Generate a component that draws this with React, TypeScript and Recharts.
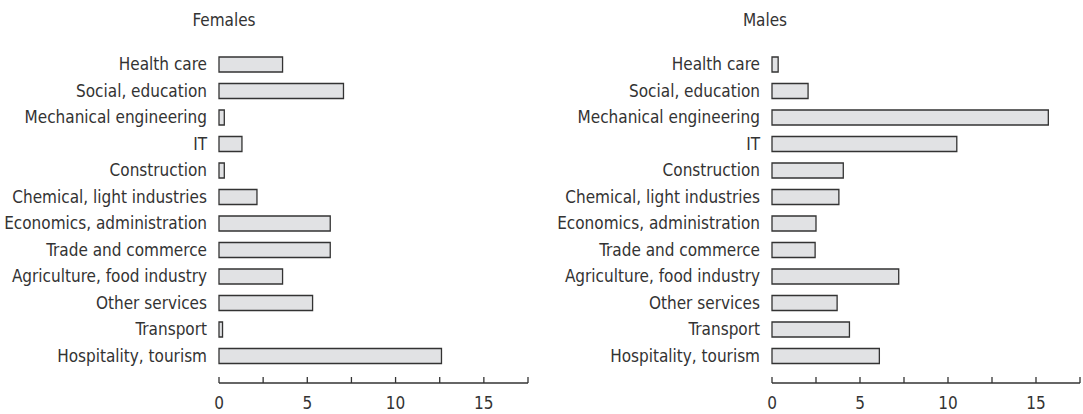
import { BarChart, Bar, XAxis, YAxis } from 'recharts'

const sectors = [
  'Health care',
  'Social, education',
  'Mechanical engineering',
  'IT',
  'Construction',
  'Chemical, light industries',
  'Economics, administration',
  'Trade and commerce',
  'Agriculture, food industry',
  'Other services',
  'Transport',
  'Hospitality, tourism',
]

const females = [3.6, 7.05, 0.3, 1.3, 0.3, 2.15, 6.3, 6.3, 3.6, 5.3, 0.2, 12.6]
const males = [0.35, 2.05, 15.7, 10.5, 4.05, 3.8, 2.5, 2.45, 7.2, 3.7, 4.4, 6.1]

const xTicks = [0, 2.5, 5, 7.5, 10, 12.5, 15, 17.5]
const labelledTicks = [0, 5, 10, 15]

const FONT = '"Liberation Sans Narrow", "DejaVu Sans Condensed", sans-serif'
const INK = '#333'

function AxisTick(props: any) {
  const { x, y, payload } = props
  const v = payload.value
  return (
    <g>
      <line x1={x} x2={x} y1={y - 6} y2={y} stroke={INK} strokeWidth={1.3} />
      {labelledTicks.includes(v) && (
        <text x={x} y={y + 26} textAnchor="middle" fontSize={17} fill={INK} fontFamily={FONT}>
          {v}
        </text>
      )}
    </g>
  )
}

interface PanelProps {
  title: string
  values: number[]
  left: number
  width: number
  yWidth: number
  right: number
  titleX: number
}

function Panel({ title, values, left, width, yWidth, right, titleX }: PanelProps) {
  const data = sectors.map((s, i) => ({ sector: s, value: values[i] }))
  return (
    <div style={{ position: 'absolute', left, top: 0, width, height: 414 }}>
      <div
        style={{
          position: 'absolute', left: titleX - 60, width: 120, top: 10, textAlign: 'center',
          fontFamily: FONT, fontSize: 17, color: INK,
        }}
      >
        {title}
      </div>
      <BarChart
        width={width}
        height={414}
        data={data}
        layout="vertical"
        margin={{ top: 51, right, bottom: 0, left: 0 }}
        barCategoryGap={11}
      >
        <XAxis
          type="number"
          domain={[0, 17.5]}
          ticks={xTicks}
          interval={0}
          tickSize={0}
          tickMargin={0}
          tick={<AxisTick />}
          stroke={INK}
          strokeWidth={1.3}
          height={31}
        />
        <YAxis
          type="category"
          dataKey="sector"
          width={yWidth}
          axisLine={false}
          tickLine={false}
          tickMargin={6}
          padding={{ top: 0, bottom: 14 }}
          tick={{ fontSize: 17, fill: INK, fontFamily: FONT }}
          interval={0}
        />
        <Bar
          dataKey="value"
          fill="#e1e2e4"
          stroke={INK}
          strokeWidth={1.3}
          barSize={15}
          isAnimationActive={false}
        />
      </BarChart>
    </div>
  )
}

export default function App() {
  return (
    <div style={{ position: 'absolute', left: 0, top: 0, width: 1083, height: 414, background: '#fff' }}>
      <Panel title="Females" values={females} left={0} width={540} yWidth={219} right={12} titleX={224} />
      <Panel title="Males" values={males} left={541} width={542} yWidth={231} right={3} titleX={224} />
    </div>
  )
}
